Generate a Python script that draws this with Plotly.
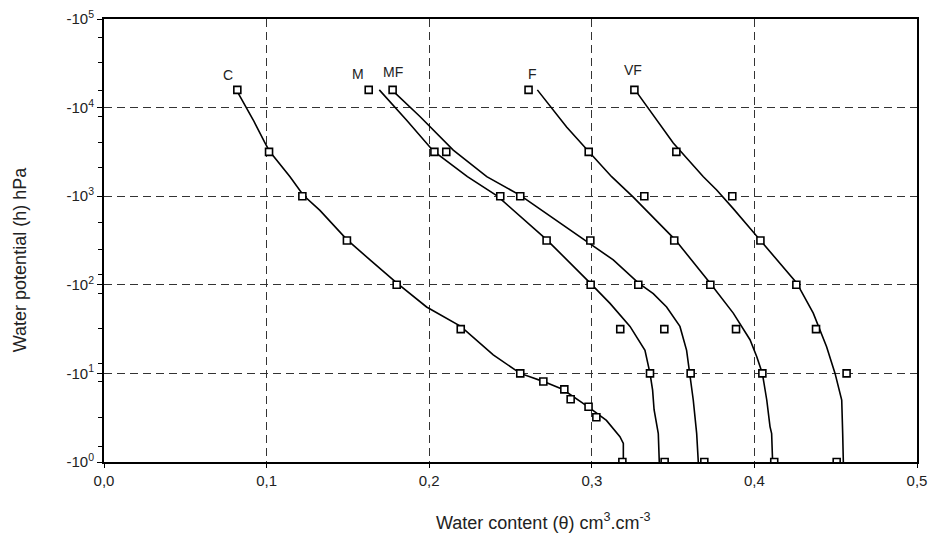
import math
import plotly.graph_objects as go

# ---------------- data (water content theta, |h| in hPa) ----------------
h_meas = [15849, 3162, 1000, 316, 100, 31.6, 10, 1]

theta_C = [0.082, 0.1015, 0.122, 0.1494, 0.180, 0.2194, 0.256, 0.3188]
theta_C_extra = [0.2702, 0.2831, 0.287, 0.298, 0.3028]
h_C_extra = [8.1, 6.6, 5.1, 4.2, 3.2]
theta_M = [0.1628, 0.2032, 0.2437, 0.2722, 0.2993, 0.3175, 0.3358, 0.3448]
theta_MF = [0.1775, 0.2105, 0.256, 0.2991, 0.3286, 0.3446, 0.3608, 0.3692]
theta_F = [0.2611, 0.2981, 0.3323, 0.3507, 0.3729, 0.3887, 0.4049, 0.4122]
theta_VF = [0.3262, 0.352, 0.3864, 0.4037, 0.4258, 0.4379, 0.4567, 0.4506]

# fitted retention curves
fit_C_theta = [0.082, 0.0918, 0.0986, 0.1017, 0.1144, 0.1226, 0.1328, 0.1494, 0.1636,
               0.180, 0.1984, 0.2194, 0.2394, 0.256, 0.270, 0.282, 0.298, 0.309,
               0.3173, 0.3194, 0.3194]
fit_C_h = [15136, 7244, 4121, 3236, 1660, 1023, 692, 324, 191,
           105, 56.2, 33.9, 16.2, 10, 8.13, 6.61, 4.17, 2.95, 1.93, 1.62, 1]

fit_M_theta = [0.1693, 0.186, 0.2025, 0.2235, 0.2420, 0.2722, 0.2989, 0.3112, 0.3235,
               0.3327, 0.3358, 0.3374, 0.3383, 0.3409, 0.3415]
fit_M_h = [15849, 7244, 3236, 1660, 1000, 324, 105, 61.7, 33.9,
           18.2, 10, 6.46, 3.89, 2.09, 1]

fit_MF_theta = [0.177, 0.1943, 0.2148, 0.2354, 0.256, 0.2989, 0.3132, 0.3286, 0.3378,
                0.346, 0.3542, 0.3583, 0.3604, 0.3624, 0.3645, 0.3655]
fit_MF_h = [15849, 7943, 3311, 1660, 1023, 295, 191, 105, 79.4,
            56.2, 33.9, 18.2, 10, 5.01, 2.09, 1]

fit_F_theta = [0.2665, 0.2845, 0.2978, 0.3122, 0.3255, 0.3337, 0.3512, 0.3727, 0.387,
               0.3973, 0.4014, 0.4049, 0.4076, 0.4096, 0.4106, 0.4112]
fit_F_h = [15849, 6026, 3236, 1660, 977, 692, 324, 105, 47.9,
           24.0, 15.5, 10, 5.01, 2.51, 2.09, 1]

fit_VF_theta = [0.3266, 0.3501, 0.3686, 0.3768, 0.387, 0.4034, 0.426, 0.4362, 0.4444,
                0.4496, 0.4537, 0.4543, 0.4547]
fit_VF_h = [15849, 3981, 1660, 1175, 724, 324, 105, 47.9, 19.95,
            10, 5.01, 2.09, 1]

curve_labels = ["C", "M", "MF", "F", "VF"]
label_theta = [0.0761, 0.1564, 0.1779, 0.2636, 0.3251]
label_h = [23400, 24000, 25100, 24000, 26300]

x_title = "Water content (θ) cm<sup>3</sup>.cm<sup>-3</sup>"
y_title = "Water potential (h) hPa"

y_tickvals = [1, 10, 100, 1000, 10000, 100000]
y_ticktext = ["-10<sup>0</sup>", "-10<sup>1</sup>", "-10<sup>2</sup>",
              "-10<sup>3</sup>", "-10<sup>4</sup>", "-10<sup>5</sup>"]
y_minor_vals = [1.5, 3.2, 8, 13, 32, 80, 130, 250, 500, 2100, 4000, 7900, 15800, 32400, 61700]
x_tickvals = [0.0, 0.1, 0.2, 0.3, 0.4, 0.5]

# ---------------- figure ----------------
fig = go.Figure()

line_style = dict(color="black", width=1.6)
for xs, ys in [(fit_C_theta, fit_C_h), (fit_M_theta, fit_M_h), (fit_MF_theta, fit_MF_h),
               (fit_F_theta, fit_F_h), (fit_VF_theta, fit_VF_h)]:
    fig.add_trace(go.Scatter(x=xs, y=ys, mode="lines", line=line_style,
                             hoverinfo="skip", showlegend=False))

marker_style = dict(symbol="square", size=7, color="white",
                    line=dict(color="black", width=1.6))
for xs in [theta_C, theta_M, theta_MF, theta_F, theta_VF]:
    fig.add_trace(go.Scatter(x=xs, y=h_meas, mode="markers", marker=marker_style,
                             showlegend=False))
fig.add_trace(go.Scatter(x=theta_C_extra, y=h_C_extra, mode="markers",
                         marker=marker_style, showlegend=False))

# annotations on a log axis are positioned in log10 units
for t, xx, yy in zip(curve_labels, label_theta, label_h):
    fig.add_annotation(x=xx, y=math.log10(yy), xref="x", yref="y", yanchor="middle",
                       text=t, showarrow=False, font=dict(size=14, color="#222"))

# axis titles (placed as in the reference, slightly off-centre)
fig.add_annotation(x=0.54, y=-0.135, xref="paper", yref="paper", xanchor="center",
                   yanchor="middle", text=x_title, showarrow=False,
                   font=dict(size=18, color="#222"))
fig.add_annotation(x=-0.103, y=0.456, xref="paper", yref="paper", xanchor="center",
                   yanchor="middle", text=y_title, textangle=-90, showarrow=False,
                   font=dict(size=18, color="#222"))

grid_dash = "8px,5px"
fig.update_layout(
    width=935, height=538,
    margin=dict(l=104, r=18, t=19, b=76, autoexpand=False),
    paper_bgcolor="white", plot_bgcolor="white",
    separators=", ",
    font=dict(family="Liberation Sans, Arial, sans-serif", size=15, color="#222"),
    xaxis=dict(
        range=[0, 0.5], tickvals=x_tickvals, tickformat=".1f", automargin=False,
        showgrid=True, gridcolor="#333", gridwidth=1, griddash=grid_dash,
        zeroline=False, showline=True, linecolor="black", linewidth=2, mirror=True,
        ticks="outside", ticklen=4, tickcolor="black", tickfont=dict(size=15),
        ticklabeloverflow="allow",
    ),
    yaxis=dict(
        type="log", range=[0, 5], tickvals=y_tickvals, ticktext=y_ticktext,
        automargin=False, ticklabeloverflow="allow",
        showgrid=True, gridcolor="#333", gridwidth=1, griddash=grid_dash,
        zeroline=False, showline=True, linecolor="black", linewidth=2, mirror=True,
        ticks="outside", ticklen=5, tickcolor="black", tickfont=dict(size=15),
        minor=dict(tickmode="array", tickvals=y_minor_vals, ticks="outside",
                   ticklen=4, tickcolor="black", showgrid=False),
    ),
)

# remove the default page margin so the figure fills the window exactly
fig.write_html("out.html",
               config={"displayModeBar": False},
               post_script="document.body.style.margin='0px';"
                           "document.body.style.overflow='hidden';")
